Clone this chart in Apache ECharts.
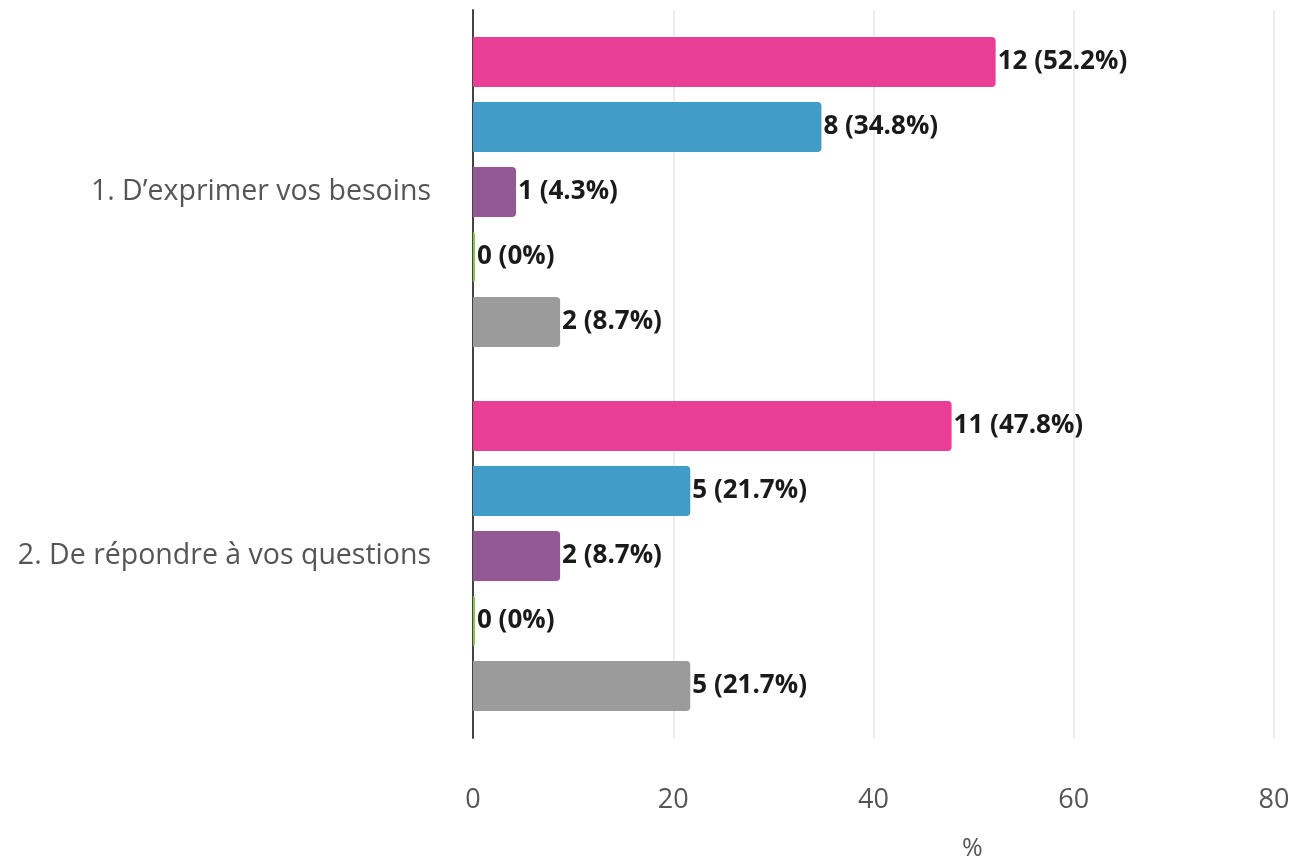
<!DOCTYPE html>
<html>
<head>
<meta charset="utf-8">
<script src="https://cdn.jsdelivr.net/npm/echarts@6/dist/echarts.min.js"></script>
<style>
html,body{margin:0;padding:0;background:#fff;}
#c{width:1296px;height:866px;}
</style>
</head>
<body>
<div id="c"></div>
<script>
const categories = ["1. D\u2019exprimer vos besoins", "2. De répondre à vos questions"];
const seriesNames = ["A", "B", "C", "D", "E"];
const seriesColors = ["#E83E96", "#419CC8", "#955896", "#8BC34A", "#9B9B9B"];
const percentValues = [
  [52.2, 47.8],
  [34.8, 21.7],
  [4.3, 8.7],
  [0, 0],
  [8.7, 21.7]
];
const countValues = [
  [12, 11],
  [8, 5],
  [1, 2],
  [0, 0],
  [2, 5]
];
const xTicks = [0, 20, 40, 60, 80];

const chart = echarts.init(document.getElementById('c'));
const series = seriesNames.map((name, i) => ({
  name: name,
  type: 'bar',
  barWidth: 50,
  barGap: '30%',
  barMinHeight: i === 3 ? 2 : 0,
  data: percentValues[i].map((v, j) => ({ value: v, count: countValues[i][j] })),
  itemStyle: { color: seriesColors[i], borderRadius: [0, 4, 4, 0] },
  label: {
    show: true,
    position: 'right',
    distance: 2,
    fontFamily: 'Open Sans',
    fontWeight: 'bold',
    fontSize: 26,
    color: '#1a1a1a',
    formatter: p => p.data.count + ' (' + p.data.value + '%)'
  }
}));

chart.setOption({
  animation: false,
  grid: { left: 473, right: 22, top: 10, bottom: 128 },
  xAxis: {
    type: 'value',
    min: xTicks[0],
    max: xTicks[xTicks.length - 1],
    interval: 20,
    axisLine: { show: false },
    axisTick: { show: false },
    splitLine: { lineStyle: { color: '#e6e6e6', width: 1.5 } },
    axisLabel: { margin: 49, fontFamily: 'Open Sans', fontSize: 27, color: '#555' }
  },
  yAxis: {
    type: 'category',
    inverse: true,
    data: categories,
    axisLine: { lineStyle: { color: '#444', width: 2 } },
    axisTick: { show: false },
    axisLabel: { margin: 42, fontFamily: 'Open Sans', fontSize: 28.5, color: '#555' }
  },
  graphic: [{
    type: 'text',
    left: 962,
    top: 836,
    style: { text: '%', fontFamily: 'Open Sans', fontSize: 25, fill: '#555' }
  }],
  series: series
});
</script>
</body>
</html>
